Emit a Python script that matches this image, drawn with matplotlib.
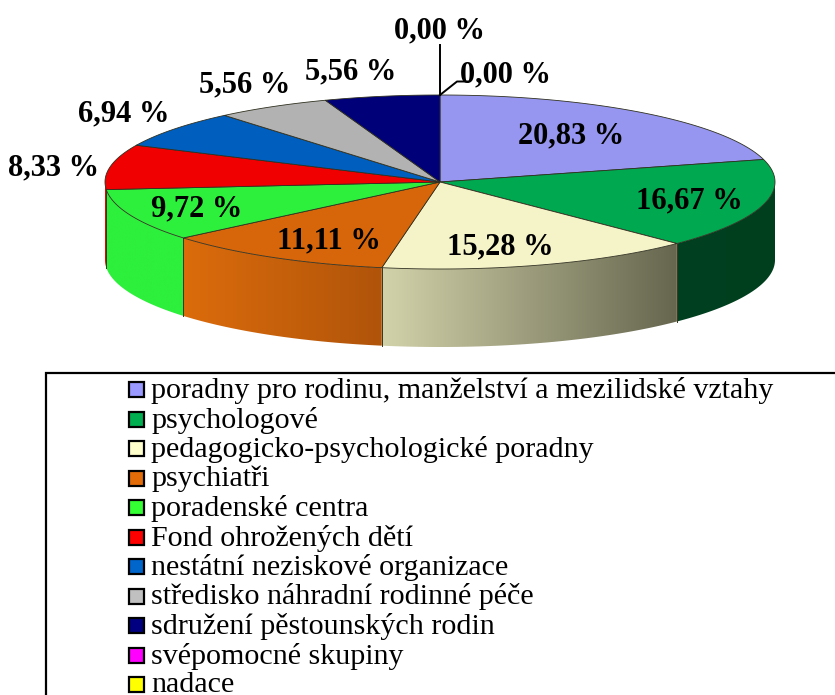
import numpy as np
import matplotlib
matplotlib.use("Agg")
import matplotlib.pyplot as plt
from matplotlib.patches import Polygon, Rectangle
from matplotlib.colors import LinearSegmentedColormap

categories = ["poradny pro rodinu, manželství a mezilidské vztahy", "psychologové",
              "pedagogicko-psychologické poradny", "psychiatři", "poradenské centra",
              "Fond ohrožených dětí", "nestátní neziskové organizace",
              "středisko náhradní rodinné péče", "sdružení pěstounských rodin",
              "svépomocné skupiny", "nadace"]
values = [20.83, 16.67, 15.28, 11.11, 9.72, 8.33, 6.94, 5.56, 5.56, 0.0, 0.0]
value_labels = ["20,83 %", "16,67 %", "15,28 %", "11,11 %", "9,72 %", "8,33 %",
                "6,94 %", "5,56 %", "5,56 %", "0,00 %", "0,00 %"]

top_colors = ["#9696F0", "#00A850", "#F5F3C8", "#D7660A", "#2DF03C", "#F00000",
              "#005FBE", "#B2B2B2", "#000078", "#FF00FF", "#FFFF00"]
legend_colors = ["#9999FF", "#00B050", "#FFFFCC", "#E36C09", "#33FF33", "#FF0000",
                 "#0066CC", "#C0C0C0", "#000080", "#FF00FF", "#FFFF00"]
wall_colors = [("#1E4A30", "#1E4A30"), ("#004020", "#003F1E"), ("#D2D2AA", "#66664F"),
               ("#DC6C0C", "#B0540A"), ("#2DF03C", "#2DF03C"), ("#F00000", "#F00000")]
label_xy = [(571, 136), (689, 201), (500, 247), (329, 241), (197, 209), (54, 168),
            (124, 114), (245, 85), (351, 72), (440, 31), (505, 75)]

CX, CY, RX, RY, DEPTH = 440, 182, 335, 87, 78

plt.rcParams["font.family"] = ["Liberation Serif", "DejaVu Serif"]
fig = plt.figure(figsize=(8.35, 6.95), dpi=100)
ax = fig.add_axes([0, 0, 1, 1])
ax.set_xlim(0, 835)
ax.set_ylim(695, 0)
ax.axis("off")


def rim(theta):
    return CX + RX * np.sin(theta), CY - RY * np.cos(theta)


edges = np.radians(np.concatenate([[0], np.cumsum(values)]) * 3.6)

# side walls
for i, (a, b) in enumerate(zip(edges[:-1], edges[1:])):
    lo, hi = max(a, np.pi / 2), min(b, 3 * np.pi / 2)
    if hi <= lo or i >= len(wall_colors):
        continue
    t = np.linspace(lo, hi, 120)
    x, y = rim(t)
    pts = np.column_stack([np.r_[x, x[::-1]], np.r_[y, y[::-1] + DEPTH]])
    poly = Polygon(pts, closed=True, facecolor="none", edgecolor="none")
    ax.add_patch(poly)
    cmap = LinearSegmentedColormap.from_list("w", wall_colors[i])
    img = ax.imshow(np.linspace(0, 1, 256)[None, :], cmap=cmap, aspect="auto",
                    extent=(x.min(), x.max(), pts[:, 1].max(), pts[:, 1].min()), zorder=2)
    img.set_clip_path(poly)
    for tt in (lo, hi):
        px, py = rim(tt)
        if np.pi / 2 < tt < 3 * np.pi / 2:
            ax.plot([px, px], [py, py + DEPTH], color="#3A3A20", lw=0.7, zorder=3)
ax.set_xlim(0, 835)
ax.set_ylim(695, 0)

# top face
for i, (a, b) in enumerate(zip(edges[:-1], edges[1:])):
    if b <= a:
        continue
    t = np.linspace(a, b, 120)
    x, y = rim(t)
    pts = np.column_stack([np.r_[CX, x], np.r_[CY, y]])
    ax.add_patch(Polygon(pts, closed=True, facecolor=top_colors[i],
                         edgecolor="#303020", lw=0.6, zorder=4))

# leader lines for the zero slices
ax.plot([440, 440], [95, 45], color="black", lw=1.4, zorder=5)
ax.plot([440, 457, 468], [95, 81.5, 81.5], color="black", lw=1.4, zorder=5)

for (lx, ly), s in zip(label_xy, value_labels):
    ax.text(lx, ly, s, ha="center", va="center", fontsize=22, fontweight="bold",
            color="black", zorder=6)

# legend
ax.add_patch(Rectangle((45.5, 372.5), 900, 400, facecolor="white", edgecolor="black",
                       lw=1.6, zorder=1))
for i, (c, s) in enumerate(zip(legend_colors, categories)):
    yy = 389.5 + i * 29.5
    ax.add_patch(Rectangle((129, yy - 7.5), 15, 15, facecolor=c, edgecolor="black",
                           lw=1.6, zorder=5))
    ax.text(151, yy + 1, s, ha="left", va="center", fontsize=21.65, color="black", zorder=6)

fig.savefig("out.png", dpi=100)
